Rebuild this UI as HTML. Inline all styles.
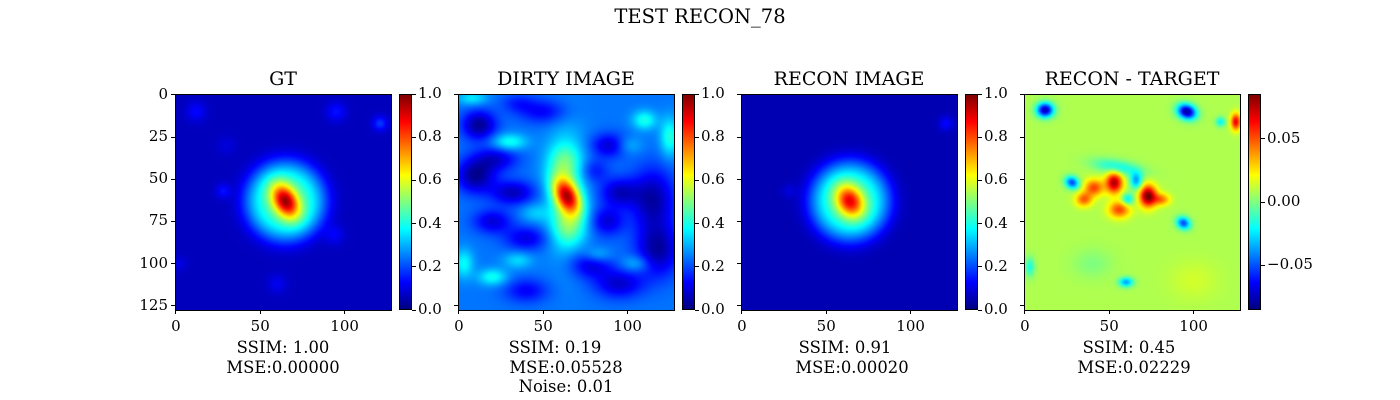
<!DOCTYPE html>
<html><head><meta charset="utf-8">
<style>
body{margin:0;background:#fff;width:1400px;height:400px;position:relative;overflow:hidden;font-family:"DejaVu Serif","Liberation Serif",serif;color:#000}
canvas{position:absolute}
.frame{position:absolute;border:1px solid #000;box-sizing:border-box}
.t{position:absolute;font-size:15px;white-space:nowrap;line-height:1}
.ttl{position:absolute;font-size:19px;white-space:nowrap;line-height:1;transform:translateX(-50%)}
.tk{position:absolute;background:#000}
.cap{position:absolute;font-size:16.4px;line-height:1;transform:translateX(-50%);white-space:nowrap}
</style></head><body>
<div class="ttl" style="left:700px;top:7px;font-size:19.5px">TEST RECON_78</div>
<div id="root"></div>
<script>
// ---- data: blob parameters [col,row,amp,sx,sy,angleDeg] ----
const gtBase = 0.06;
const gtBlobs = [[65,63,0.55,5,7.5,30],[12,10,0.07,4,4,0],[95,10,0.08,4,4,0],[121,17,0.12,3,3,0],[28,57,0.08,3,3,0],[94,83,0.06,4,4,0],[60,112,0.05,4,4,0],[30,30,0.03,4,4,0],[2,100,0.04,3,3,0]];
const gtHalo = [65,63,0.37,24];
const reconBase = 0.05;
const reconBlobs = [[64,63,0.48,5.5,7,30],[121,17,0.08,3,3,0],[28,57,0.04,3,3,0]];
const reconHalo = [64,63,0.37,24];
const dirtyBase = 0.24;
const dirtyBlobs = [[64,60,0.55,5,8,30],[64,58,0.16,8,25,0],[65,78,0.16,7,8,0],[62,40,0.14,7,8,0],
 [12,18,-0.22,7,6,0],[10,48,-0.22,8,7,0],[32,58,-0.18,9,5,0],[22,38,-0.15,9,5,0],[90,30,-0.17,8,5,0],[95,58,-0.17,8,6,0],[115,62,-0.2,9,13,0],[118,92,-0.2,9,11,0],[40,85,-0.14,9,5,0],[78,100,-0.16,9,6,0],[20,75,-0.15,8,5,0],[95,112,-0.16,10,6,0],[40,116,-0.12,9,5,0],[50,10,-0.12,10,5,0],[88,75,-0.15,7,6,0],[80,45,-0.1,6,5,0],[35,5,-0.08,7,4,0],
 [30,28,0.16,7,3.5,0],[110,15,0.16,5,4,0],[125,25,0.17,4,8,0],[100,30,0.1,6,4,0],[3,100,0.14,4,6,0],[20,108,0.15,6,3.5,0],[82,95,0.12,6,3.5,0],[35,98,0.1,6,3.5,0],[105,100,0.1,6,3.5,0],[8,2,0.12,6,3,0],[45,70,0.08,6,4,0]];
const diffBase = 0.008;
const diffBlobs = [[12,9,-0.085,3.5,3,0],[96,10,-0.09,4,3,-20],[125,16,0.06,2,3.5,0],[116,16,-0.03,2,2,0],[53,52,0.07,3.5,4.5,0],[41,55,0.045,4,3.5,0],[73,60,0.08,3.5,4.5,0],[35,62,0.04,3.5,3,0],[56,68,0.045,4.5,3.5,0],[81,62,0.035,3.5,2.5,0],
 [66,51,-0.045,2.5,3.5,0],[61,62,-0.035,2.5,2.5,0],[28,52,-0.06,3,2.5,-30],[55,43,-0.03,10,3,-10],[94,76,-0.06,3,2.5,-30],[60,111,-0.045,3,2,0],[3,102,-0.025,2,4,0],[40,100,-0.008,8,6,0],[100,110,0.006,10,8,0]];
// ---- colormap ----
function jet(v){const c=x=>Math.max(0,Math.min(1,x));
 const r=c(1.5-Math.abs(4*v-3)),g=c(1.5-Math.abs(4*v-2)),b=c(1.5-Math.abs(4*v-1));
 return [r*255|0,g*255|0,b*255|0];}
function field(base,blobs,halo){const f=new Float32Array(128*128);
 for(let y=0;y<128;y++)for(let x=0;x<128;x++){let v=base;
  for(const [cx,cy,a,sx,sy,ang] of blobs){const t=ang*Math.PI/180,dx=x-cx,dy=y-cy;
   const u=dx*Math.cos(t)-dy*Math.sin(t),w=dx*Math.sin(t)+dy*Math.cos(t);
   v+=a*Math.exp(-(u*u/(2*sx*sx)+w*w/(2*sy*sy)));}
  if(halo){const r=Math.hypot(x-halo[0],y-halo[1]);v+=halo[2]*Math.exp(-Math.pow(r/halo[3],4));}
  f[y*128+x]=v;}
 return f;}
const root=document.getElementById('root');
function el(tag,cls,style,txt){const e=document.createElement(tag);if(cls)e.className=cls;e.style.cssText=style;if(txt!==undefined)e.textContent=txt;root.appendChild(e);return e;}
const panels=[
 {x:175,title:'GT',f:field(gtBase,gtBlobs,gtHalo),vmin:0,vmax:1,cap:['SSIM: 1.00','MSE:0.00000'],capx:[283,283],ylabels:true},
 {x:458,title:'DIRTY IMAGE',f:field(dirtyBase,dirtyBlobs),vmin:0,vmax:1,cap:['SSIM: 0.19','MSE:0.05528','Noise: 0.01'],capx:[555,566,566]},
 {x:741,title:'RECON IMAGE',f:field(reconBase,reconBlobs,reconHalo),vmin:0,vmax:1,cap:['SSIM: 0.91','MSE:0.00020'],capx:[845,852]},
 {x:1024,title:'RECON - TARGET',f:field(diffBase,diffBlobs),vmin:-0.0857,vmax:0.0857,cap:['SSIM: 0.45','MSE:0.02229'],capx:[1129,1134],diff:true}];
const TOP=94,S=216,sc=S/128;
panels.forEach((p,i)=>{
 const src=document.createElement('canvas');src.width=128;src.height=128;
 const sctx=src.getContext('2d');const img=sctx.createImageData(128,128);
 for(let k=0;k<128*128;k++){const c=jet((p.f[k]-p.vmin)/(p.vmax-p.vmin));img.data[k*4]=c[0];img.data[k*4+1]=c[1];img.data[k*4+2]=c[2];img.data[k*4+3]=255;}
 sctx.putImageData(img,0,0);
 const cv=el('canvas','',`left:${p.x}px;top:${TOP}px`);cv.width=S;cv.height=S;
 
 
 const ctx=cv.getContext('2d');ctx.imageSmoothingEnabled=true;ctx.imageSmoothingQuality='high';ctx.drawImage(src,0,0,S,S);
 const fr=el('div','frame',`left:${p.x}px;top:${TOP}px;width:${S+1}px;height:${S+1}px`);
 
 
 const tt=el('div','ttl',`left:${p.x+S/2}px;top:70px`,p.title);
 
 
 [0,50,100].forEach(v=>{const px=p.x+(v+0.5)*sc;
  el('div','tk',`left:${px-0.5}px;top:${TOP+S}px;width:1px;height:4px`);
  const l=el('div','t',`left:${px}px;top:${TOP+S+9}px;transform:translateX(-50%)`,String(v));
  
  });
 [0,25,50,75,100,125].forEach(v=>{const py=TOP+(v+0.5)*sc;
  el('div','tk',`left:${p.x-4}px;top:${py-0.5}px;width:4px;height:1px`);
  if(p.ylabels){const l=el('div','t',`right:${1400-p.x+7}px;top:${py-8}px`,String(v));
   
   }});
 const cbx=p.x+S+8;
 const cb=el('div','',`position:absolute;left:${cbx}px;top:${TOP}px;width:13px;height:${S}px;box-sizing:border-box;border:1px solid #000;background:linear-gradient(to top,#000080,#0000ff 12.5%,#00ffff 37.5%,#ffff00 62.5%,#ff0000 87.5%,#800000)`);
 
 
 const ticks=p.diff?[0.05,0,-0.05]:[0,0.2,0.4,0.6,0.8,1.0];
 ticks.forEach(v=>{const py=TOP+S*(p.vmax-v)/(p.vmax-p.vmin);
  el('div','tk',`left:${cbx+13}px;top:${py-0.5}px;width:4px;height:1px`);
  const txt=p.diff?(v<0?'\u22120.05':v.toFixed(2)):v.toFixed(1);
  const l=el('div','t',`left:${cbx+19}px;top:${py-8}px`,txt);
  
  });
 p.cap.forEach((c,j)=>{const l=el('div','cap',`left:${p.capx[j]}px;top:${340+j*19.5}px`,c);
  
  });
});
</script>
</body></html>
